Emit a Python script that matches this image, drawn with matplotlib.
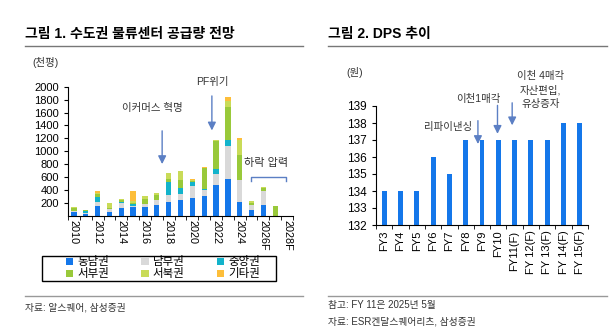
import numpy as np
import matplotlib
matplotlib.use('Agg')
import matplotlib.pyplot as plt
from matplotlib.patches import Patch, Rectangle

plt.rcParams['font.family'] = ['Liberation Sans', 'Noto Sans CJK KR', 'DejaVu Sans']
plt.rcParams['axes.unicode_minus'] = False

# ---- data: chart 1 (천평) ----
years = ['2010', '2011', '2012', '2013', '2014', '2015', '2016', '2017', '2018', '2019',
         '2020', '2021', '2022', '2023', '2024', '2025F', '2026F', '2027F', '2028F']
dongnam = [60, 30, 150, 60, 120, 140, 140, 170, 220, 240, 280, 310, 480, 570, 220, 90, 170, 0, 0]
nambu = [25, 10, 70, 50, 80, 20, 40, 80, 100, 100, 180, 90, 170, 520, 340, 80, 210, 0, 0]
jungang = [0, 30, 75, 0, 10, 20, 0, 0, 200, 100, 60, 15, 80, 90, 0, 0, 0, 0, 0]
seobu = [40, 20, 50, 10, 35, 20, 80, 80, 50, 110, 20, 320, 430, 500, 390, 30, 50, 150, 0]
seobuk = [15, 10, 15, 80, 25, 30, 45, 20, 100, 140, 20, 15, 10, 100, 220, 35, 25, 5, 0]
gita = [0, 0, 20, 0, 0, 150, 0, 0, 0, 0, 20, 10, 10, 60, 40, 0, 0, 0, 0]

series_names = ['동남권', '남부권', '중앙권', '서부권', '서북권', '기타권']
series_colors = ['#1477EA', '#D9D9D9', '#12B3CB', '#99C93A', '#C9DB58', '#FDBE3A']

# ---- data: chart 2 (원) ----
fy_labels = ['FY3', 'FY4', 'FY5', 'FY6', 'FY7', 'FY8', 'FY9', 'FY10',
             'FY11(F)', 'FY 12(F)', 'FY 13(F)', 'FY 14(F)', 'FY 15(F)']
dps = [134, 134, 134, 136, 135, 137, 137, 137, 137, 137, 137, 138, 138]

W, H = 616, 333
fig = plt.figure(figsize=(W / 100, H / 100), dpi=100)

def fx(px):
    return px / W

def fy(py):
    return 1 - py / H

arrow_c = '#5B7FC4'
fs = 7.5

# titles, rules, sources
fig.text(fx(25), fy(34), '그림 1. 수도권 물류센터 공급량 전망', fontsize=10, fontweight='bold', va='center')
fig.text(fx(328), fy(34), '그림 2. DPS 추이', fontsize=10, fontweight='bold', va='center')
for x0, x1 in [(25, 303), (328, 607)]:
    fig.add_artist(plt.Line2D([fx(x0), fx(x1)], [fy(46), fy(46)], color='#777777', lw=1))
    fig.add_artist(plt.Line2D([fx(x0), fx(x1)], [fy(296), fy(296)], color='#999999', lw=1))
fig.text(fx(25), fy(307), '자료: 알스퀘어, 삼성증권', fontsize=7, va='center', color='#333333')
fig.text(fx(328), fy(305), '참고: FY 11은 2025년 5월', fontsize=7, va='center', color='#333333')
fig.text(fx(328), fy(322), '자료: ESR켄달스퀘어리츠, 삼성증권', fontsize=7, va='center', color='#333333')
fig.text(fx(32), fy(62), '(천평)', fontsize=fs, va='center', color='#333333')
fig.text(fx(346), fy(72), '(원)', fontsize=fs, va='center', color='#333333')

# ---- chart 1 ----
ax1 = fig.add_axes([fx(68), fy(216), fx(293 - 68), fy(86.7) - fy(216)])
x = np.arange(len(years))
bottom = np.zeros(len(years))
handles = []
for vals, name, col in zip([dongnam, nambu, jungang, seobu, seobuk, gita], series_names, series_colors):
    v = np.array(vals, dtype=float)
    ax1.bar(x, v, 0.45, bottom=bottom, color=col, linewidth=0)
    bottom += v
    handles.append(Patch(facecolor=col, label=name))
ax1.set_xlim(-0.5, len(years) - 0.5)
ax1.set_ylim(0, 2000)
ax1.set_yticks(np.arange(200, 2001, 200))
ax1.set_xticks(x[::2])
ax1.set_xticklabels(years[::2], rotation=-90)
ax1.set_xticks(np.arange(-0.5, len(years)), minor=True)
ax1.tick_params(axis='x', which='major', length=0, labelsize=fs + 0.3, pad=3)
ax1.tick_params(axis='x', which='minor', length=3)
ax1.tick_params(axis='y', labelsize=fs + 0.5, length=3)
for s in ['top', 'right']:
    ax1.spines[s].set_visible(False)

ax1.text(6.6, 1670, '이커머스 혁명', fontsize=fs, ha='center', va='center', color='#333333')
ax1.annotate('', xy=(7.45, 760), xytext=(7.45, 1360),
             arrowprops=dict(arrowstyle='-|>', color=arrow_c, lw=1, mutation_scale=12))
ax1.text(11.65, 2070, 'PF위기', fontsize=fs, ha='center', va='center', color='#333333', clip_on=False)
ax1.annotate('', xy=(11.65, 1280), xytext=(11.65, 1900),
             arrowprops=dict(arrowstyle='-|>', color=arrow_c, lw=1, mutation_scale=12))
ax1.text(16.2, 820, '하락 압력', fontsize=fs + 0.5, ha='center', va='center', color='#333333')
ax1.plot([14.95, 14.95, 17.9, 17.9], [540, 600, 600, 540], color=arrow_c, lw=1)

# legend with manual frame
fig.add_artist(Rectangle((fx(42), fy(281)), fx(234), fy(256) - fy(281), transform=fig.transFigure,
                         fill=False, edgecolor='black', lw=1))
order = [0, 3, 1, 4, 2, 5]
leg = fig.legend([handles[i] for i in order], [series_names[i] for i in order], ncol=3,
                 loc='center', bbox_to_anchor=(fx(163), fy(268.5)),
                 fontsize=8.3, frameon=False, borderpad=0,
                 handlelength=0.65, handleheight=0.65, handletextpad=0.35, labelspacing=0.0,
                 columnspacing=2.8)

# ---- chart 2 ----
ax2 = fig.add_axes([fx(376), fy(225), fx(588 - 376), fy(106) - fy(225)])
x2 = np.arange(len(dps))
ax2.bar(x2, np.array(dps) - 132, 0.3, bottom=132, color='#1477EA', linewidth=0)
ax2.set_xlim(-0.5, len(dps) - 0.5)
ax2.set_ylim(132, 139)
ax2.set_yticks(np.arange(132, 140))
ax2.set_xticks(x2)
ax2.set_xticklabels(fy_labels, rotation=90)
ax2.set_xticks(np.arange(-0.5, len(dps)), minor=True)
ax2.tick_params(axis='x', which='major', length=0, labelsize=fs + 0.5, pad=4)
ax2.tick_params(axis='x', which='minor', length=3)
ax2.tick_params(axis='y', labelsize=fs + 1, length=3)
for s in ['top', 'right']:
    ax2.spines[s].set_visible(False)

ax2.text(3.9, 137.75, '리파이낸싱', fontsize=fs, ha='center', va='center', color='#333333')
ax2.annotate('', xy=(5.75, 136.6), xytext=(5.75, 138.3),
             arrowprops=dict(arrowstyle='-|>', color=arrow_c, lw=1, mutation_scale=12))
ax2.text(5.8, 139.4, '이천1매각', fontsize=fs, ha='center', va='center', color='#333333', clip_on=False)
ax2.annotate('', xy=(6.95, 137.2), xytext=(6.95, 139.2),
             arrowprops=dict(arrowstyle='-|>', color=arrow_c, lw=1, mutation_scale=12))
ax2.text(9.6, 139.94, '이천 4매각\n자산편입,\n유상증자', fontsize=fs, ha='center', va='center',
         color='#333333', linespacing=1.5, clip_on=False)
ax2.annotate('', xy=(7.85, 137.7), xytext=(7.85, 139.35),
             arrowprops=dict(arrowstyle='-|>', color=arrow_c, lw=1, mutation_scale=12))

fig.savefig('out.png', dpi=100)
